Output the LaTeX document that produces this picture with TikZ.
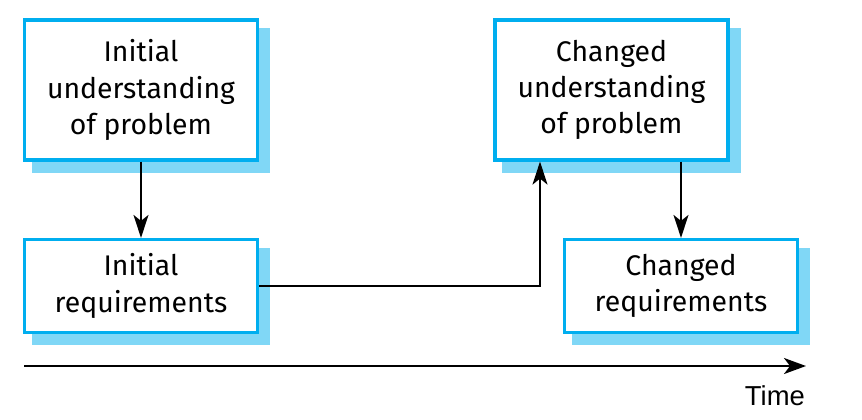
\documentclass[tikz,border=0pt]{standalone}
\usepackage{fontspec}
\setmainfont{Fira Sans}
\newfontfamily\axisfont{Liberation Sans}
\usetikzlibrary{arrows.meta,calc,backgrounds}

\definecolor{boxcyan}{RGB}{0,174,239}
\definecolor{shadowblue}{RGB}{128,215,246}

\tikzset{
  stagebox/.style={draw=boxcyan, line width=3.2bp, fill=white, inner sep=0pt,
    minimum width=233bp, align=center,
    font=\fontsize{28.5}{36.5}\selectfont},
  tallbox/.style={stagebox, minimum height=140bp},
  lowbox/.style={stagebox, minimum height=93bp},
  flow/.style={line width=1.7bp, -{Stealth[length=23bp, width=15bp, inset=6bp]}},
  timeline/.style={line width=2.3bp, -{Stealth[length=22bp, width=16bp, inset=6bp]}},
}

\begin{document}
\begin{tikzpicture}[x=1bp, y=-1bp]
  \useasboundingbox (0,0) rectangle (862,419);

  % stages
  \node[tallbox] (iu) at (141,90)    {Initial\\understanding\\of problem};
  \node[lowbox]  (ir) at (141,286)   {Initial\\requirements};
  \node[tallbox] (cu) at (611.5,90)  {Changed\\understanding\\of problem};
  \node[lowbox]  (cr) at (681,286)   {Changed\\requirements};

  % offset shadows behind each stage
  \begin{scope}[on background layer]
    \foreach \b in {iu,ir,cu,cr}
      \fill[shadowblue] ($(\b.north west)+(9,10)$) rectangle ($(\b.south east)+(11,11)$);
  \end{scope}

  % transitions
  \draw[flow] (iu.south) -- (ir.north);
  \draw[flow] (ir.east) -| (cu.south -| 540,0);
  \draw[flow] (cu.south -| cr.north) -- (cr.north);

  % time axis
  \coordinate (t0) at (24,366);
  \coordinate (t1) at (806,366);
  \draw[timeline] (t0) -- (t1);
  \node[anchor=base east, inner sep=0pt, font=\axisfont\fontsize{27.5}{33}\selectfont] (time) at (805,405) {Time};
\end{tikzpicture}
\end{document}
